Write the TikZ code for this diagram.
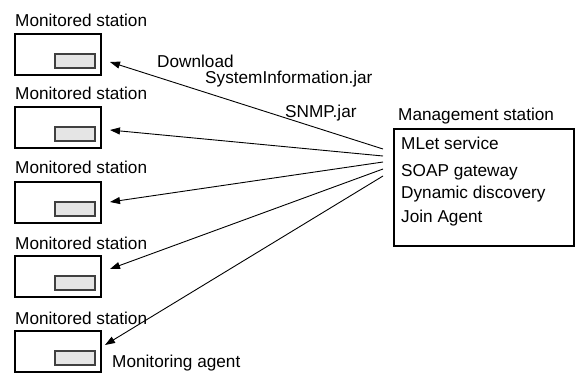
\documentclass[tikz,border=0pt]{standalone}
\usepackage{fontspec}
\setmainfont{Liberation Sans}
\usetikzlibrary{arrows.meta}
\begin{document}
\begin{tikzpicture}[x=1pt,y=-1pt,
  lbl/.style={anchor=base west,inner sep=0pt,font=\fontsize{17.2}{20}\selectfont},
  stbox/.style={draw=black,line width=1.3pt,fill=white},
  agent/.style={draw=black!75,line width=1.2pt,fill=black!10},
  conn/.style={line width=0.9pt,-{Triangle[length=10pt,width=7pt]}}]
\useasboundingbox (0,0) rectangle (575,372);
% stations
\foreach \i/\y/\ly in {1/34/27, 2/107/99, 3/182/173, 4/256/249, 5/331/324}{
  \node[lbl] (l\i) at (15,\ly) {Monitored station};
  \draw[stbox] (15,\y) rectangle (101,\y+41);
  \draw[agent] (55,\y+20) rectangle (95,\y+34);
}
\node[lbl] (ma) at (112,367) {Monitoring agent};
% management station
\node[lbl] (ml) at (398,120) {Management station};
\draw[stbox] (394,129) rectangle (574,246);
\node[lbl] (m1) at (401,149) {MLet service};
\node[lbl] (m2) at (401,176) {SOAP gateway};
\node[lbl] (m3) at (401,198) {Dynamic discovery};
\node[lbl] (m4) at (401,222) {Join Agent};
% connector labels
\node[lbl] (d1) at (157,67) {Download};
\node[lbl] (d2) at (205,83) {SystemInformation.jar};
\node[lbl] (d3) at (285,117) {SNMP.jar};
% connectors
\coordinate (e1) at (383,149);
\coordinate (e2) at (383,156);
\coordinate (e3) at (383,162);
\coordinate (e4) at (383,169);
\coordinate (e5) at (383,176);
\coordinate (t1) at (110,62);
\coordinate (t2) at (110,130);
\coordinate (t3) at (110,202);
\coordinate (t4) at (110,269);
\coordinate (t5) at (105,345);
\foreach \i in {1,...,5}{\draw[conn] (e\i) -- (t\i);}
\end{tikzpicture}
\end{document}
